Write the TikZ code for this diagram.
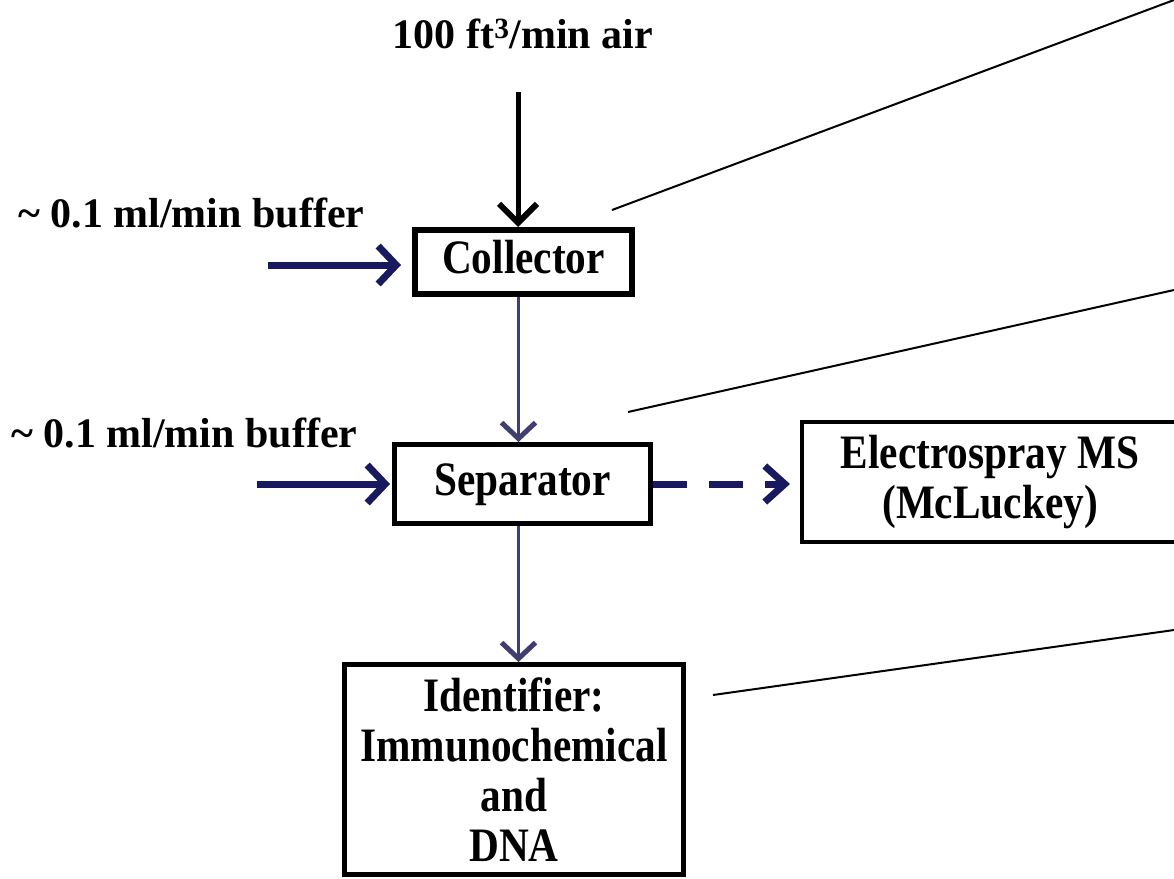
\documentclass[tikz,border=0pt]{standalone}
\usepackage{fontspec}
\setmainfont{Liberation Serif}[FakeStretch=0.86]
\newfontfamily\lblfont{Liberation Serif}
\usetikzlibrary{arrows.meta}
\definecolor{navy}{RGB}{25,25,95}
\definecolor{slate}{RGB}{62,62,112}
\begin{document}
\begin{tikzpicture}[x=1pt,y=-1pt,
  box/.style={draw=black,rectangle,inner sep=0pt,fill=white,
    font=\fontsize{48}{50}\selectfont\bfseries,align=center},
  oneline/.style={text height=33pt,text depth=11pt},
  lbl/.style={font=\lblfont\fontsize{42}{44}\selectfont\bfseries,inner sep=0pt},
  feed/.style={draw=navy,line width=7pt,
    -{Straight Barb[length=18pt,width=38pt,line width=7pt]}},
  airflow/.style={draw=black,line width=5pt,
    -{Straight Barb[length=19pt,width=38pt,line width=6pt]}},
  flow/.style={draw=slate,line width=3pt,
    -{Straight Barb[length=16pt,width=34pt,line width=5pt]}},
  dflow/.style={draw=navy,line width=7pt,dash pattern=on 34pt off 22pt,
    -{Straight Barb[length=20pt,width=36pt,line width=7pt]}},
  pointer/.style={draw=black,line width=2pt}
]
\useasboundingbox (0,0) rectangle (1174,878);
\fill[white] (0,0) rectangle (1174,878);

% title and feed labels
\node[lbl,anchor=base] (air) at (523,48) {100 ft\textsuperscript{3}/min air};
\node[lbl,anchor=base west] (buf1) at (18,227) {\textasciitilde\ 0.1 ml/min buffer};
\node[lbl,anchor=base west] (buf2) at (11,447) {\textasciitilde\ 0.1 ml/min buffer};

% boxes
\node[box,oneline,line width=6pt,minimum width=217pt,minimum height=64pt] (col) at (523.5,262) {Collector};
\node[box,oneline,line width=5pt,minimum width=256pt,minimum height=79pt] (sep) at (522.5,484) {Separator};
\node[box,line width=4pt,minimum width=376pt,minimum height=120pt] (esi) at (990,482) {Electrospray MS\\(McLuckey)};
\node[box,line width=5pt,minimum width=339pt,minimum height=210pt] (ident) at (514,769.5) {Identifier:\\Immunochemical\\and\\DNA};

% feeds
\coordinate (airsrc) at (518,92);
\draw[airflow] (airsrc) -- (airsrc |- col.north);
\coordinate (b1s) at (268,265);
\draw[feed,shorten >=11pt] (b1s) -- (b1s -| col.west);
\coordinate (b2s) at (257,484);
\draw[feed,shorten >=2pt] (b2s) -- (b2s -| sep.west);

% flows
\draw[flow] ([xshift=-5pt]col.south) -- ([xshift=-5pt]col.south |- sep.north);
\draw[flow] ([xshift=-4pt]sep.south) -- ([xshift=-4pt]sep.south |- ident.north);
\draw[dflow,shorten >=10pt] (sep.east) -- (sep.east -| esi.west);

% pointer lines
\coordinate (p1a) at (612,210); \coordinate (p1b) at (1174,0);
\coordinate (p2a) at (628,412); \coordinate (p2b) at (1174,290);
\coordinate (p3a) at (713,695); \coordinate (p3b) at (1174,630);
\draw[pointer] (p1a) -- (p1b);
\draw[pointer] (p2a) -- (p2b);
\draw[pointer] (p3a) -- (p3b);
\end{tikzpicture}
\end{document}
